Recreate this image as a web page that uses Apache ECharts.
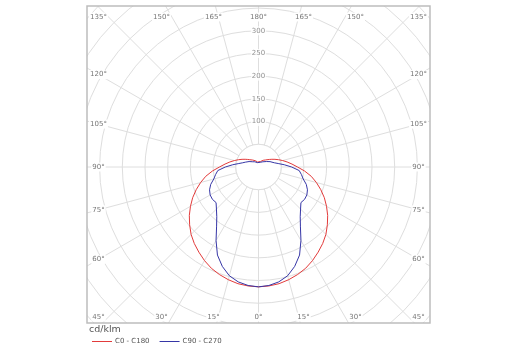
<!DOCTYPE html>
<html><head><meta charset="utf-8">
<script src="https://cdn.jsdelivr.net/npm/echarts@6/dist/echarts.min.js"></script>
<style>html,body{margin:0;padding:0;background:#fff}#c{width:516px;height:360px}</style>
</head><body><div id="c"></div>
<script>
// ---- data ----
const angles = [0,5,10,15,20,25,30,35,40,45,50,55,60,65,70,75,80,85,90,95,100,105,110,115,120,125,130,135,140,145,150,155,160,165,170,175,180];
const redC0C180 = [264,263,261,257,252,246,238,229,220,210,198,186,173,160,146,132,118,102,86,74,64,55,47,40,34,29,25,22,20,18,17,15,13,12,11,10,10];
const blueC90C270 = [264,262,257,248,233,214,187,161,143,131,122,124,123,119,112,102,96,90,73,57,44,36,31,28,24,21,18,16,15,14,13,12,11,10,9,7,6];
const radialTicks = [100,150,200,250,300];
const angleTicks = [0,15,30,45,60,75,90,105,120,135,150,165,180];
const seriesNames = ['C0 - C180','C90 - C270'];
const unitLabel = 'cd/klm';

// ---- layout ----
const CX = 258.5, CY = 167, PX_PER_UNIT = 22.7/50, R_MAX = 550;
const FRAME = {x:87, y:6, w:343, h:317};
const GRID = '#dedede';

function closedCurve(vals){
  const d = [];
  for (let i = 0; i < angles.length; i++) d.push([vals[i], angles[i]]);
  for (let i = angles.length - 1; i >= 0; i--) d.push([vals[i], 360 - angles[i]]);
  return d;
}

const graphics = [];
// inner clear disc (radial lines start at 50)
graphics.push({type:'circle', shape:{cx:CX, cy:CY, r:50*PX_PER_UNIT}, style:{fill:'#fff', stroke:GRID, lineWidth:1}, z:1, silent:true});
// white masks outside the frame
graphics.push({type:'rect', shape:{x:0,y:0,width:516,height:FRAME.y}, style:{fill:'#fff'}, z:10, silent:true});
graphics.push({type:'rect', shape:{x:0,y:FRAME.y+FRAME.h,width:516,height:360}, style:{fill:'#fff'}, z:10, silent:true});
graphics.push({type:'rect', shape:{x:0,y:0,width:FRAME.x,height:360}, style:{fill:'#fff'}, z:10, silent:true});
graphics.push({type:'rect', shape:{x:FRAME.x+FRAME.w,y:0,width:100,height:360}, style:{fill:'#fff'}, z:10, silent:true});
graphics.push({type:'rect', shape:{x:FRAME.x,y:FRAME.y,width:FRAME.w,height:FRAME.h}, style:{fill:null, stroke:'#bdbdbd', lineWidth:1.5}, z:11, silent:true});

// angle labels placed along the frame edges
const HW = 160, HH = 150, PROJ = 168;
function addAngleLabel(a, side){
  const rad = a*Math.PI/180;
  const s = Math.sin(rad), c = Math.cos(rad);
  let x, y;
  if (Math.abs(c) >= Math.abs(s) - 1e-9) {
    y = Math.sign(c)*HH;
    x = Math.max(-HW, Math.min(HW, s/Math.abs(c)*PROJ));
  } else {
    x = HW;
    y = Math.max(-HH, Math.min(HH, c/Math.abs(s)*HW));
  }
  graphics.push({type:'text', x: CX + side*x, y: CY + y, z:12, silent:true,
    style:{text: a + '°', fill:'#777', font:'7px "DejaVu Sans", sans-serif', align:'center', verticalAlign:'middle',
      backgroundColor:'#fff', padding:[1,1]}});
}
angleTicks.forEach(a => {
  if (a === 0 || a === 180) addAngleLabel(a, 1);
  else { addAngleLabel(a, -1); addAngleLabel(a, 1); }
});

const chart = echarts.init(document.getElementById('c'), null, {renderer:'canvas'});
chart.setOption({
  animation:false,
  backgroundColor:'#fff',
  title:{text:unitLabel, left:89, top:325, padding:0, z:20,
    textStyle:{fontSize:9.5, fontWeight:'normal', color:'#555', fontFamily:'"DejaVu Sans", sans-serif'}},
  legend:{left:92, top:338, padding:0, itemWidth:20, itemHeight:1, itemGap:10, icon:'rect', z:20,
    data:seriesNames,
    textStyle:{fontSize:7, color:'#555', fontFamily:'"DejaVu Sans", sans-serif', padding:[0,0,0,-2]}},
  polar:{center:[CX, CY], radius: R_MAX*PX_PER_UNIT},
  angleAxis:{type:'value', min:0, max:360, interval:15, startAngle:270, clockwise:true,
    axisLine:{show:false}, axisTick:{show:false}, axisLabel:{show:false},
    splitLine:{show:true, lineStyle:{color:GRID, width:1}}},
  radiusAxis:{type:'value', min:0, max:R_MAX, interval:50,
    axisLine:{show:false}, axisTick:{show:false}, axisLabel:{show:false},
    splitLine:{show:true, lineStyle:{color:GRID, width:1}}},
  graphic:{elements:graphics},
  series:[
    {name:seriesNames[0], type:'line', coordinateSystem:'polar', data:closedCurve(redC0C180),
      showSymbol:false, symbol:'none', z:5, lineStyle:{color:'#e23b3b', width:1}, itemStyle:{color:'#e23b3b'}},
    {name:seriesNames[1], type:'line', coordinateSystem:'polar', data:closedCurve(blueC90C270),
      showSymbol:false, symbol:'none', z:5, lineStyle:{color:'#3636a6', width:1}, itemStyle:{color:'#3636a6'}},
    {type:'scatter', coordinateSystem:'polar', symbolSize:0, z:6, silent:true,
      data: radialTicks.map(v => [v, 180]),
      label:{show:true, position:'inside', formatter:p => String(p.value[0]), fontSize:7, color:'#777',
        fontFamily:'"DejaVu Sans", sans-serif', backgroundColor:'#fff', padding:[1,1]}}
  ]
});
</script>
</body></html>
